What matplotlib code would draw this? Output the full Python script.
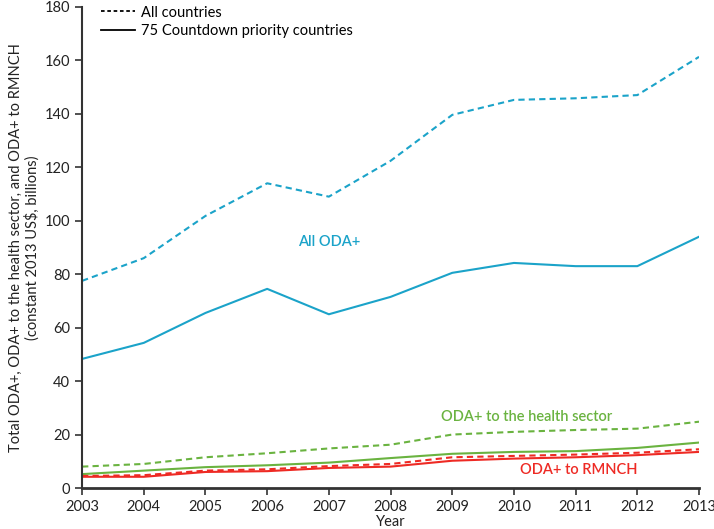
import matplotlib
matplotlib.use("Agg")
import matplotlib.pyplot as plt
from matplotlib.lines import Line2D

plt.rcParams['font.family'] = ['Lato', 'DejaVu Sans']

years = [2003, 2004, 2005, 2006, 2007, 2008, 2009, 2010, 2011, 2012, 2013]

oda_all = [77.5, 86, 101.8, 114, 109, 122.4, 139.6, 145.2, 145.8, 147, 161.3]
oda_75 = [48.3, 54.3, 65.5, 74.5, 65, 71.5, 80.5, 84.2, 83, 83, 94]
health_all = [8, 9, 11.5, 13, 14.8, 16.2, 20, 21, 21.7, 22.2, 24.8]
health_75 = [5.2, 6.5, 7.8, 8.5, 9.5, 11.2, 12.8, 13.5, 13.8, 15, 17]
rmnch_all = [4.5, 4.8, 6.5, 7, 8.2, 9, 11.5, 12, 12.5, 13.2, 14.5]
rmnch_75 = [4.2, 4.2, 6, 6.3, 7.5, 8, 10.2, 11, 11.5, 12.3, 13.5]

BLUE = "#1ba3c9"
GREEN = "#6ab340"
RED = "#ee2a24"
AXIS = "#333333"

fig = plt.figure(figsize=(7.14, 5.29), dpi=100)
ax = fig.add_axes([0.115, 0.0775, 0.864, 0.9095])

ax.plot(years, oda_all, color=BLUE, lw=1.5, ls=(0, (3, 2)))
ax.plot(years, oda_75, color=BLUE, lw=1.5)
ax.plot(years, health_all, color=GREEN, lw=1.5, ls=(0, (3, 2)))
ax.plot(years, health_75, color=GREEN, lw=1.5)
ax.plot(years, rmnch_all, color=RED, lw=1.5, ls=(0, (3, 2)))
ax.plot(years, rmnch_75, color=RED, lw=1.5)

ax.text(2007.0, 92, "All ODA+", color=BLUE, ha='center', va='center',
        fontsize=10.5, fontweight='semibold')
ax.text(2010.2, 26.6, "ODA+ to the health sector", color=GREEN, ha='center', va='center',
        fontsize=10.5, fontweight='semibold')
ax.text(2011.05, 6.7, "ODA+ to RMNCH", color=RED, ha='center', va='center',
        fontsize=10.5, fontweight='semibold')

ax.set_xlim(2003, 2013)
ax.set_ylim(0, 180)
ax.set_xticks(years)
ax.set_yticks(range(0, 181, 20))
ax.spines['top'].set_visible(False)
ax.spines['right'].set_visible(False)
for s in ('left', 'bottom'):
    ax.spines[s].set_color(AXIS)
    ax.spines[s].set_linewidth(1.5)
ax.spines['bottom'].set_linewidth(2)
ax.tick_params(colors=AXIS, labelcolor="#222222", labelsize=10.5, width=1.2, length=5)

ax.set_xlabel("Year", fontsize=10.5, color="#222222", labelpad=1)
ax.set_ylabel("Total ODA+, ODA+ to the health sector, and ODA+ to RMNCH\n(constant 2013 US$, billions)",
              fontsize=10.5, color="#222222", labelpad=4, linespacing=1.1)

handles = [Line2D([], [], color='black', lw=1.3, ls=(0, (2, 1.5))),
           Line2D([], [], color='black', lw=1.3)]
ax.legend(handles, ["All countries", "75 Countdown priority countries"],
          loc='upper left', bbox_to_anchor=(0.01, 1.03), frameon=False,
          fontsize=10.5, handlelength=2.3, handletextpad=0.4, labelspacing=0.3)

fig.savefig("out.png", dpi=100)
